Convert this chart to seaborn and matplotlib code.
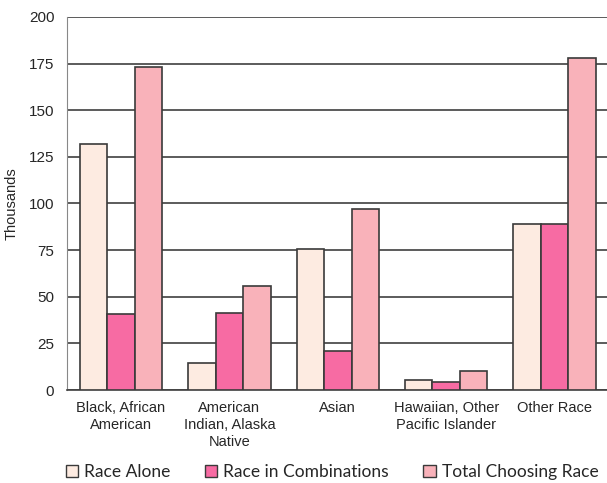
import matplotlib
matplotlib.use("Agg")
import matplotlib.pyplot as plt
import seaborn as sns
import pandas as pd

categories = ["Black, African\nAmerican", "American\nIndian, Alaska\nNative", "Asian",
              "Hawaiian, Other\nPacific Islander", "Other Race"]
series = ["Race Alone", "Race in Combinations", "Total Choosing Race"]
race_alone = [132, 14.5, 75.5, 5.5, 89]
race_combinations = [41, 41.5, 21, 4.5, 89]
total_choosing = [173, 56, 97, 10, 178]
colors = ["#FDEBE1", "#F76BA3", "#F9B2BA"]
yticks = [0, 25, 50, 75, 100, 125, 150, 175, 200]

rows = []
for name, vals in zip(series, [race_alone, race_combinations, total_choosing]):
    for cat, v in zip(categories, vals):
        rows.append({"category": cat, "series": name, "value": v})
df = pd.DataFrame(rows)

sns.set_style("white")
plt.rcParams["font.family"] = ["Liberation Sans", "DejaVu Sans"]

fig = plt.figure(figsize=(6.07, 4.83), dpi=100)
ax = fig.add_axes([0.110, 0.1925, 0.893, 0.7725])

sns.barplot(data=df, x="category", y="value", hue="series", order=categories,
            hue_order=series, palette=colors, saturation=1, width=0.76, gap=0,
            edgecolor="#3a3a3a", linewidth=1.2, ax=ax, legend=False, zorder=3)

ax.set_ylim(0, 200)
ax.set_xlim(-0.5, 4.5)
ax.set_yticks(yticks)
ax.set_yticklabels([str(t) for t in yticks], fontsize=11)
for lbl in ax.get_xticklabels():
    lbl.set_linespacing(1.25)
ax.tick_params(axis="x", labelsize=10.5, length=0, pad=8)
ax.tick_params(axis="y", length=0, pad=9)
ax.yaxis.grid(True, color="#404040", linewidth=1.2, zorder=0)
ax.set_axisbelow(True)
for s in ["top", "right"]:
    ax.spines[s].set_visible(False)
ax.spines["left"].set_color("#888888")
ax.spines["bottom"].set_color("#404040")
ax.spines["bottom"].set_linewidth(1.2)
ax.set_xlabel("")
ax.set_ylabel("Thousands", fontsize=10.5, labelpad=7)

handles = [plt.Rectangle((0, 0), 1, 1, facecolor=c, edgecolor="#3a3a3a", linewidth=1)
           for c in colors]
fig.legend(handles, series, loc="lower center", bbox_to_anchor=(0.547, -0.026), ncol=3,
           frameon=False, handlelength=0.7, handleheight=0.7,
           handletextpad=0.35, columnspacing=2.0,
           prop={"family": ["Lato", "DejaVu Sans"], "size": 12.5})

fig.savefig("out.png", dpi=100)
